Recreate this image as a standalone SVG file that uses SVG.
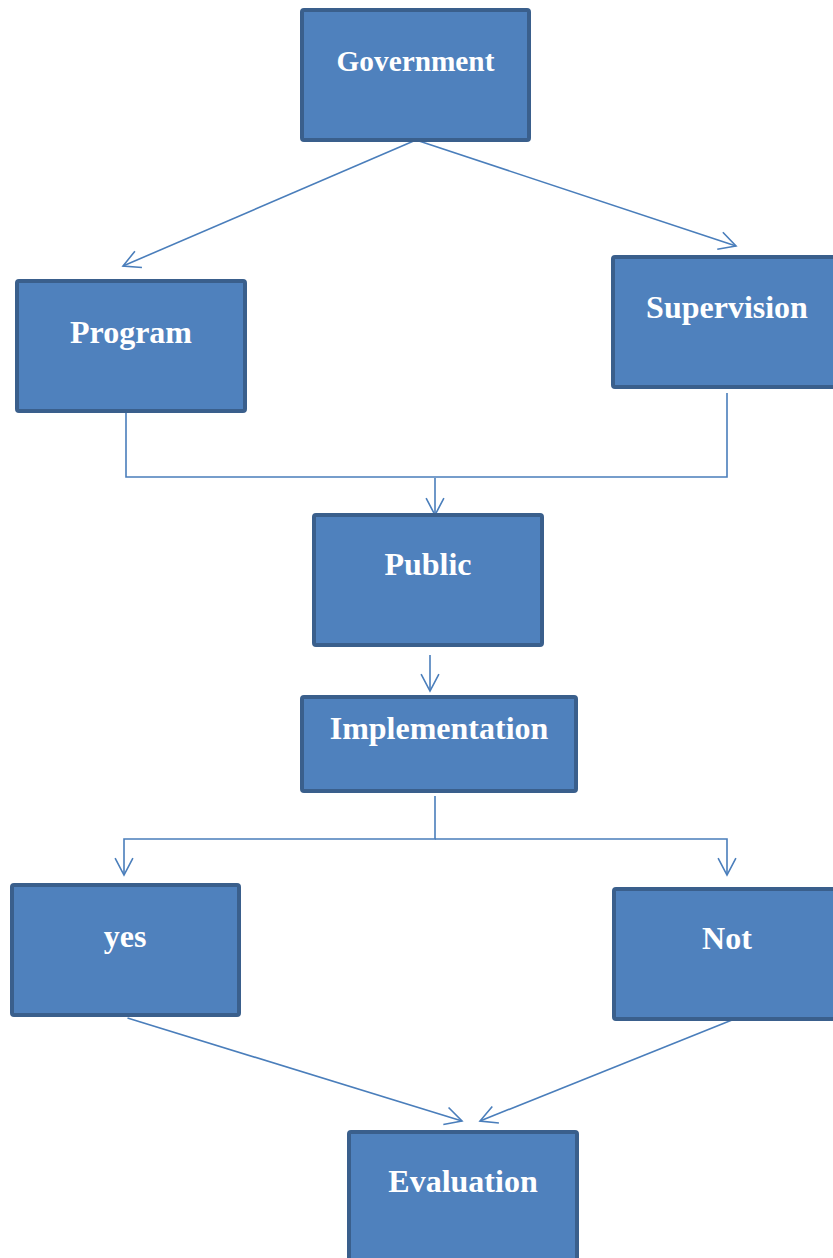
<svg xmlns="http://www.w3.org/2000/svg" width="833" height="1258" viewBox="0 0 833 1258">
<style>
.box{fill:#4F81BD;stroke:#3A5F8C;stroke-width:4}
.lbl{font-family:"Liberation Serif","Times New Roman",serif;font-weight:bold;font-size:32px;fill:#FFFFFF;text-anchor:middle}
.conn{fill:none;stroke:#4A7EBB;stroke-width:1.6}
</style>
<defs>
<marker id="arr" markerUnits="userSpaceOnUse" orient="auto" overflow="visible" markerWidth="20" markerHeight="20" refX="0" refY="0" viewBox="-20 -10 20 20">
<path d="M-16.8,-8.9 L0,0 L-16.8,8.9" fill="none" stroke="#4A7EBB" stroke-width="1.6"/>
</marker>
</defs>
<rect width="833" height="1258" fill="#FFFFFF"/>
<g id="connectors">
<path class="conn" d="M416,140 L123,266" marker-end="url(#arr)"/>
<path class="conn" d="M416,140 L736,246" marker-end="url(#arr)"/>
<path class="conn" d="M126,413 V477 H727 V393"/>
<path class="conn" d="M435,478 V515" marker-end="url(#arr)"/>
<path class="conn" d="M430,655 V691" marker-end="url(#arr)"/>
<path class="conn" d="M435,796 V839 H124 V875" marker-end="url(#arr)"/>
<path class="conn" d="M435,839 H727 V875" marker-end="url(#arr)"/>
<path class="conn" d="M127.5,1018 L462,1121" marker-end="url(#arr)"/>
<path class="conn" d="M737,1018 L480,1121" marker-end="url(#arr)"/>
</g>
<g id="government">
<rect class="box" x="302" y="10" width="227" height="130" rx="2"/>
<text class="lbl" x="415.5" y="71" style="font-size:29.3px">Government</text>
</g>
<g id="program">
<rect class="box" x="17" y="281" width="228" height="130" rx="2"/>
<text class="lbl" x="131" y="343">Program</text>
</g>
<g id="supervision">
<rect class="box" x="613" y="257" width="228" height="130" rx="2"/>
<text class="lbl" x="727" y="318">Supervision</text>
</g>
<g id="public">
<rect class="box" x="314" y="515" width="228" height="130" rx="2"/>
<text class="lbl" x="428" y="575">Public</text>
</g>
<g id="implementation">
<rect class="box" x="302" y="697" width="274" height="94" rx="2"/>
<text class="lbl" x="439" y="739">Implementation</text>
</g>
<g id="yes">
<rect class="box" x="12" y="885" width="227" height="130" rx="2"/>
<text class="lbl" x="125" y="947">yes</text>
</g>
<g id="not">
<rect class="box" x="614" y="889" width="228" height="130" rx="2"/>
<text class="lbl" x="727" y="949">Not</text>
</g>
<g id="evaluation">
<rect class="box" x="349" y="1132" width="228" height="130" rx="2"/>
<text class="lbl" x="463" y="1192">Evaluation</text>
</g>
</svg>
